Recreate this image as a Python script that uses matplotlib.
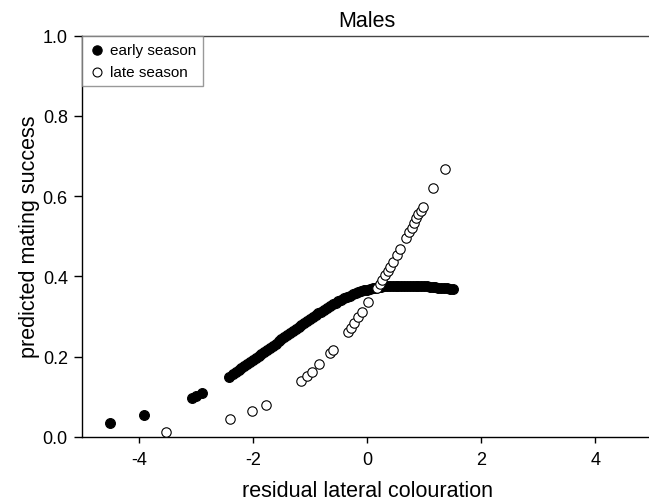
import matplotlib.pyplot as plt

plt.rcParams['font.family'] = ['Liberation Sans', 'DejaVu Sans']

# Early season: a few sparse points, then the dense predicted curve
early_x = [-4.51, -3.90, -3.07, -3.00, -2.90,
           -2.42, -2.35, -2.30, -2.25, -2.20, -2.15, -2.10, -2.05, -2.00, -1.95,
           -1.90, -1.85, -1.80, -1.75, -1.70, -1.65, -1.60, -1.55, -1.50, -1.45,
           -1.40, -1.35, -1.30, -1.25, -1.20, -1.15, -1.10, -1.05, -1.00, -0.95,
           -0.90, -0.85, -0.80, -0.75, -0.70, -0.65, -0.60, -0.55, -0.50, -0.45,
           -0.40, -0.35, -0.30, -0.25, -0.20, -0.15, -0.10, -0.05, 0.00, 0.05,
           0.10, 0.15, 0.20, 0.25, 0.30, 0.35, 0.40, 0.45, 0.50, 0.55,
           0.60, 0.65, 0.70, 0.75, 0.80, 0.85, 0.90, 0.95, 1.00, 1.05,
           1.10, 1.15, 1.20, 1.25, 1.30, 1.35, 1.40, 1.45, 1.50]
early_y = [0.034, 0.053, 0.097, 0.102, 0.108,
           0.150, 0.157, 0.162, 0.167, 0.172, 0.176, 0.181, 0.186, 0.191, 0.196,
           0.201, 0.206, 0.211, 0.217, 0.222, 0.227, 0.232, 0.238, 0.243, 0.248,
           0.253, 0.258, 0.263, 0.268, 0.273, 0.278, 0.283, 0.288, 0.293, 0.298,
           0.303, 0.308, 0.312, 0.317, 0.321, 0.326, 0.330, 0.334, 0.338, 0.342,
           0.345, 0.349, 0.352, 0.355, 0.358, 0.361, 0.363, 0.365, 0.367, 0.369,
           0.370, 0.372, 0.373, 0.374, 0.375, 0.376, 0.376, 0.377, 0.377, 0.377,
           0.377, 0.377, 0.377, 0.377, 0.376, 0.376, 0.376, 0.375, 0.375, 0.375,
           0.374, 0.374, 0.373, 0.372, 0.371, 0.371, 0.370, 0.369, 0.368]

# Late season
late_x = [-3.52, -2.40, -2.01, -1.77, -1.16, -1.05, -0.97, -0.84, -0.64, -0.60,
          -0.33, -0.28, -0.23, -0.15, -0.08, 0.01, 0.18, 0.22, 0.26, 0.32,
          0.36, 0.40, 0.46, 0.53, 0.58, 0.68, 0.74, 0.78, 0.82, 0.86,
          0.90, 0.95, 0.99, 1.16, 1.36]
late_y = [0.012, 0.043, 0.063, 0.080, 0.138, 0.151, 0.162, 0.182, 0.210, 0.217,
          0.262, 0.272, 0.283, 0.298, 0.310, 0.336, 0.372, 0.380, 0.390, 0.403,
          0.414, 0.424, 0.436, 0.452, 0.468, 0.495, 0.510, 0.520, 0.532, 0.546,
          0.555, 0.562, 0.574, 0.620, 0.668]

x_ticks = [-4, -2, 0, 2, 4]
y_ticks = [0.0, 0.2, 0.4, 0.6, 0.8, 1.0]

fig = plt.figure(figsize=(6.49, 5.02), dpi=100)
# right edge of the axes sits just past the figure, as in the cropped original
ax = fig.add_axes([81.7 / 649, 0.128, 570.6 / 649, 0.799])

ax.scatter(early_x, early_y, s=50, color='black', edgecolor='black',
           linewidth=0.8, label='early season', zorder=3)
ax.scatter(late_x, late_y, s=46, facecolor='white', edgecolor='black',
           linewidth=0.8, label='late season', zorder=4)

ax.set_xlim(-5, 5)
ax.set_ylim(0, 1.0)
ax.set_xticks(x_ticks)
ax.set_xticklabels(['-4', '-2', '0', '2', '4'])
ax.set_yticks(y_ticks)
ax.set_yticklabels([f'{v:.1f}' for v in y_ticks])
ax.tick_params(axis='x', length=4, width=1, labelsize=13, pad=6)
ax.tick_params(axis='y', length=6, width=1, labelsize=13, pad=4)
ax.spines['right'].set_visible(False)
for s in ['left', 'bottom', 'top']:
    ax.spines[s].set_linewidth(1.0)
ax.spines['top'].set_color('#444444')

ax.set_title('Males', fontsize=15.5, pad=7)
ax.set_xlabel('residual lateral colouration', fontsize=15.5, labelpad=9)
ax.set_ylabel('predicted mating success', fontsize=15.5, labelpad=2)

leg = ax.legend(loc='upper left', fontsize=11, frameon=True, fancybox=False,
                borderaxespad=0, handletextpad=0.3, borderpad=0.45,
                handlelength=1.1, labelspacing=0.55, scatterpoints=1,
                markerscale=0.95)
leg.get_frame().set_edgecolor('#808080')
leg.get_frame().set_linewidth(1.0)

plt.savefig('out.png', dpi=100)
